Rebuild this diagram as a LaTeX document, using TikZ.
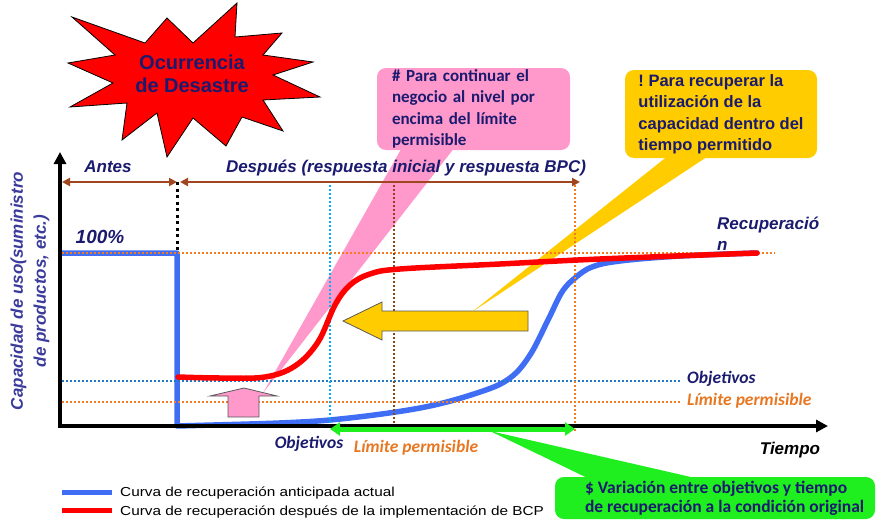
\documentclass[tikz,border=0pt]{standalone}
\usepackage{fontspec}
\setmainfont{Liberation Sans}
\newfontfamily\calib{Carlito}
\usepackage{tikz}
\usetikzlibrary{arrows.meta}
\definecolor{navytext}{HTML}{1A1A6E}
\definecolor{axislabel}{HTML}{3B3B9B}
\definecolor{spanbrown}{HTML}{A0461E}
\definecolor{curveblue}{HTML}{3F6EF4}
\definecolor{dotorange}{HTML}{F47B20}
\definecolor{dotblue}{HTML}{1F78C8}
\definecolor{dotcyan}{HTML}{00B0F0}
\definecolor{dotbrown}{HTML}{8B4513}
\definecolor{notepink}{HTML}{FF99CC}
\definecolor{noteyellow}{HTML}{FFCC00}
\definecolor{notegreen}{HTML}{1FEF1F}
\definecolor{limitorange}{HTML}{E87722}
\def\bi{\bfseries\itshape}
\def\cb{\calib\fontsize{17.5}{19}\selectfont\bfseries\itshape}
\frenchspacing

\begin{document}
\begin{tikzpicture}[x=1pt, y=-1pt,
  curve/.style={line width=5.5pt, line cap=round, line join=round},
  dotrule/.style={line width=1.8pt, dash pattern=on 1.8pt off 2.2pt},
  span/.style={spanbrown, line width=2pt, {Triangle[length=8pt,width=8pt]}-{Triangle[length=8pt,width=8pt]}},
  lbl/.style={font=\fontsize{17}{21}\selectfont\bi, text=navytext, inner sep=0pt},
  note/.style={rounded corners=9pt, inner sep=0pt, align=left, text=navytext},
  blockarrow/.style={draw=black!65, line width=0.8pt}]
 	\useasboundingbox (0,0) rectangle (876,530);
	% axes and time marks
	\coordinate (ytop) at (60,152);
	\coordinate (o) at (60,426);
	\coordinate (xend) at (828,426);
	\coordinate (hit) at (177,182);
	\coordinate (full) at (177,253);
	\coordinate (low) at (177,426);
	\coordinate (pinktip) at (263,393);
	\coordinate (yellowtip) at (472,312);
	\coordinate (greentip) at (490,431);
	% callouts
	\node[note, fill=notepink, minimum width=193pt, minimum height=82pt, text width=163pt,
	  font=\calib\fontsize{17}{21.3}\selectfont\bfseries] (pinknote) at (473.5,109)
	  {\# Para continuar el\\negocio al nivel por\\encima del límite\\permisible};
	\fill[notepink] ([xshift=-73pt]pinknote.south) -- ([xshift=-21pt]pinknote.south) -- (pinktip) -- cycle;
	\node[note, fill=noteyellow, minimum width=192pt, minimum height=88pt,
	  font=\fontsize{16.5}{21.5}\selectfont\bfseries] (yellownote) at (721,114)
	  {! Para recuperar la\\utilización de la\\capacidad dentro del\\tiempo permitido};
	\fill[noteyellow] ([xshift=-56pt]yellownote.south) -- ([xshift=-16pt]yellownote.south) -- (yellowtip) -- cycle;
	\node[note, fill=notegreen, minimum width=320pt, minimum height=42pt] (greennote) at (715,498) {};
	\fill[notegreen] ([xshift=-130pt]greennote.north) -- ([xshift=-25pt]greennote.north) -- (greentip) -- cycle;
	\node[note, anchor=west, font=\calib\fontsize{17.5}{19}\selectfont\bfseries] (greentext) at ([xshift=30pt]greennote.west)
	  {\$ Variación entre objetivos y tiempo\\de recuperación a la condición original};
	% disaster
	\draw[fill=red, line width=0.8pt, line join=miter] (72,17) -- (145,43) -- (167,18) -- (193,43) -- (237,3) -- (235,37)
	  -- (282,33) -- (263,55) -- (313,62) -- (273,75) -- (320,97) -- (263,100) -- (283,131) -- (242,117)
	  -- (226,146) -- (193,118) -- (167,157) -- (157,113) -- (122,140) -- (127,103) -- (70,107) -- (113,83)
	  -- (68,63) -- (115,55) -- cycle;
	\node[align=center, text=navytext, font=\fontsize{20}{23}\selectfont\bfseries] (disaster) at (192,74) {Ocurrencia\\de Desastre};
	% curves and guides
	\draw[curve, curveblue, line cap=butt] (62,253) -- (full) -- (low) -- (250,424);
	\draw[curve, curveblue] plot[smooth, tension=0.6] coordinates {(250,424) (330,420) (420,408) (480,392) (510,378)
	  (530,355) (548,320) (562,292) (575,278) (592,267) (620,261) (680,256) (757,253)};
	\draw[dotrule, dotorange] (62,253) -- (775,253);
	\draw[dotrule, dotblue] (62,381) -- (680,381);
	\draw[dotrule, dotorange] (62,402) -- (680,402);
	\draw[dotrule, dotcyan] (330,185) -- (330,426);
	\draw[dotrule, dotbrown] (394,185) -- (394,426);
	\draw[dotrule, dotorange] (575,185) -- (575,432);
	\draw[line width=3.5pt, {Triangle[length=12pt,width=12pt]}-{Triangle[length=12pt,width=12pt]}] (ytop) -- (o) -- (xend);
	\draw[curve, red] plot[smooth, tension=0.6] coordinates {(178,377) (220,378) (265,377) (295,366) (318,342)
	  (335,305) (350,285) (370,274) (400,269) (500,264) (600,259) (757,253)};
	\draw[span] (62,182) -- (hit);
	\draw[span] ([xshift=3pt]hit) -- (580,182);
	\draw[line width=3pt, dash pattern=on 3pt off 3.5pt] (hit) -- (full);
	\draw[blockarrow, fill=notepink] (228,417) -- (228,396) -- (210,396) -- (244,388) -- (277,396) -- (259,396) -- (259,417) -- cycle;
	\draw[blockarrow, fill=noteyellow] (528,311) -- (382,311) -- (382,302) -- (343,321) -- (382,340) -- (382,331) -- (528,331) -- cycle;
	\draw[notegreen, line width=5pt, {Triangle[length=10pt,width=13pt]}-{Triangle[length=10pt,width=13pt]}] (330,429) -- (575,429);
	% labels
	\node[lbl] (antes) at (108,167) {Antes};
	\node[lbl] (despues) at (406,168) {Después (respuesta inicial y respuesta BPC)};
	\node[lbl, font=\fontsize{19}{21}\selectfont\bi] (cien) at (100,237) {100\%};
	\node[lbl, anchor=north west, align=left] (recup) at (717,217) {Recuperació\\n};
	\node[lbl, text=black] (tiempo) at (790,450) {Tiempo};
	\node[lbl, text=axislabel, rotate=90, align=center, font=\fontsize{17}{23}\selectfont\bi] (ylabel) at (30,291)
	  {Capacidad de uso(suministro\\de productos, etc.)};
	\node[anchor=west, font=\cb, text=navytext, inner sep=0pt] (objr) at (687,379) {Objetivos};
	\node[anchor=west, font=\cb, text=limitorange, inner sep=0pt] (limr) at (687,401) {Límite permisible};
	\node[font=\cb, text=navytext, inner sep=0pt] (objb) at (309,444) {Objetivos};
	\node[font=\cb, text=limitorange, inner sep=0pt] (limb) at (416,448) {Límite permisible};
	% legend
	\draw[curveblue, line width=5pt] (62,492) -- (112,492);
	\draw[red, line width=5pt] (62,510) -- (112,510);
	\node[anchor=west, inner sep=0pt, font=\fontsize{13}{15}\selectfont] (legblue) at (120,493)
	  {\scalebox{1.18}[1]{Curva de recuperación anticipada actual}};
	\node[anchor=west, inner sep=0pt, font=\fontsize{13}{15}\selectfont] (legred) at (120,512)
	  {\scalebox{1.18}[1]{Curva de recuperación después de la implementación de BCP}};
\end{tikzpicture}
\end{document}
